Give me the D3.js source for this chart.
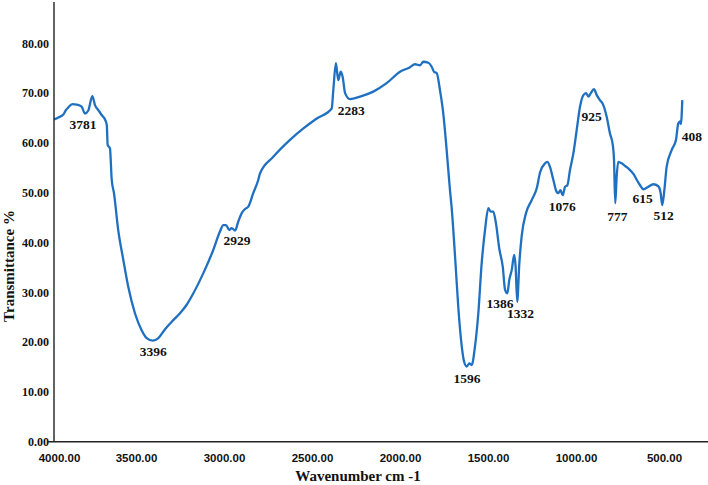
<!DOCTYPE html>
<html>
<head>
<meta charset="utf-8">
<script src="https://cdn.jsdelivr.net/npm/d3@7/dist/d3.min.js"></script>
<style>
  html, body { margin: 0; padding: 0; background: #ffffff; }
  svg { display: block; }
</style>
</head>
<body>
<svg id="chart" width="708" height="485"></svg>
<script>
// ---- data ----
const wavenumber = [3966,3941,3913,3898,3885,3862,3837,3809,3790,3771,3748,3733,3714,3695,3676,3666,3661,3648,3638,3625,3601,3572,3544,3506,3468,3439,3405,3373,3335,3297,3250,3212,3174,3118,3061,3023,3004,2989,2970,2956,2937,2919,2899,2881,2862,2834,2805,2795,2720,2625,2549,2473,2388,2379,2364,2351,2337,2326,2312,2284,2227,2152,2076,2000,1943,1915,1886,1868,1839,1820,1807,1791,1773,1754,1735,1716,1707,1687,1669,1649,1636,1621,1606,1593,1574,1555,1536,1517,1498,1485,1470,1455,1436,1416,1403,1390,1379,1365,1351,1343,1334,1322,1309,1284,1252,1223,1204,1176,1163,1148,1129,1114,1101,1088,1076,1062,1049,1034,1015,996,977,958,943,930,916,898,882,864,845,826,807,791,784,777,769,760,740,722,703,684,670,655,636,617,589,561,532,519,510,498,485,456,432,419,409,404,396];
const transmittance = [64.7,65.1,65.7,66.6,67.1,67.8,67.7,67.3,65.9,66.5,69.4,67.6,66.6,65.6,64.7,63.6,59.6,58.9,52.6,49.9,42.5,36.5,31.1,25.8,22.4,20.8,20.3,20.8,22.6,24.1,25.8,27.5,29.8,33.8,38.5,42.2,43.5,43.5,42.5,42.9,42.4,44.2,45.9,46.7,47.2,49.9,52.6,53.9,57.2,60.6,62.9,64.9,66.9,70.6,76.0,72.6,74.3,73.3,70.0,68.8,69.3,70.3,72.0,74.3,75.2,75.8,75.6,76.3,76.1,75.3,74.3,74.0,70.6,65.9,58.6,50.5,47.2,37.1,27.1,19.1,16.1,15.1,15.7,15.4,19.1,25.8,35.8,42.5,46.9,46.2,46.2,43.9,38.8,35.1,30.5,29.8,32.5,34.5,37.5,35.1,28.1,35.8,41.2,45.9,48.5,50.9,54.1,55.9,56.2,55.2,52.6,50.5,49.9,50.5,49.5,51.2,51.5,54.6,57.9,62.6,67.3,69.6,70.0,69.3,70.0,70.8,69.6,68.6,67.6,65.3,61.9,59.6,56.6,47.9,53.2,56.2,55.9,55.4,54.9,54.2,53.6,52.6,51.5,50.7,51.2,51.7,51.3,49.9,47.5,50.5,55.2,58.6,60.6,63.9,64.3,63.8,68.6];

const peakLabels = ["3781","3396","2929","2283","1596","1386","1332","1076","925","777","615","512","408"];
const peakLabelWn = [3801,3402,2926,2277,1619,1432,1316,1078,911,765,622,502,341];
const peakLabelT  = [63.7,18.1,40.4,66.6,12.7,27.8,25.8,47.3,65.3,45.2,48.9,45.5,61.2];

const xTicks = [4000,3500,3000,2500,2000,1500,1000,500];
const yTicks = [0,10,20,30,40,50,60,70,80];
const xTitle = "Wavenumber cm -1";
const yTitle = "Transmittance %";

// ---- layout ----
const svg = d3.select("#chart");
const plotLeft = 54, plotRight = 708, plotBottom = 441.7, plotTop = 0;

const x = d3.scaleLinear().domain([4000, 0]).range([48, 752]);
const y = d3.scaleLinear().domain([0, 88.7]).range([plotBottom, plotTop]);

const serif = "'Liberation Serif', 'Times New Roman', serif";
const sans = "'Liberation Sans', Arial, sans-serif";

// clip
svg.append("defs").append("clipPath").attr("id", "plotclip")
  .append("rect").attr("x", plotLeft).attr("y", plotTop)
  .attr("width", plotRight - plotLeft).attr("height", plotBottom - plotTop);

// curve
const pts = wavenumber.map((w, i) => [w, transmittance[i]]);
const line = d3.line()
  .x(d => x(d[0]))
  .y(d => y(d[1]))
  .curve(d3.curveMonotoneX);

svg.append("path")
  .datum(pts)
  .attr("clip-path", "url(#plotclip)")
  .attr("fill", "none")
  .attr("stroke", "#1f70c1")
  .attr("stroke-width", 2.3)
  .attr("stroke-linejoin", "round")
  .attr("d", line);

// x axis
const xAxis = d3.axisBottom(x).tickValues(xTicks).tickSize(0).tickPadding(0)
  .tickFormat(d => d3.format(".2f")(d));
const gx = svg.append("g").attr("transform", `translate(0,${plotBottom})`).call(xAxis);
gx.select(".domain").remove();
gx.append("line").attr("x1", 48).attr("x2", 708).attr("y1", 0).attr("y2", 0)
  .attr("stroke", "#222").attr("stroke-width", 1.4);
gx.selectAll(".tick text")
  .attr("y", 0).attr("dy", 0)
  .attr("transform", d => d === 4000 ? "translate(11,20.6)" : "translate(0,20.6)")
  .attr("font-family", sans).attr("font-weight", "bold")
  .attr("font-size", "11.5px").attr("fill", "#111");

// y axis
const yAxis = d3.axisLeft(y).tickValues(yTicks).tickSize(0).tickPadding(5)
  .tickFormat(d => d3.format(".2f")(d));
const gy = svg.append("g").attr("transform", `translate(${plotLeft},0)`).call(yAxis);
gy.select(".domain").remove();
gy.append("line").attr("x1", 0).attr("x2", 0).attr("y1", plotTop + 2).attr("y2", plotBottom)
  .attr("stroke", "#222").attr("stroke-width", 1.4);
gy.selectAll(".tick text")
  .attr("font-family", serif).attr("font-weight", "bold")
  .attr("font-size", "12px").attr("fill", "#111");

// peak labels
svg.append("g").selectAll("text")
  .data(peakLabels)
  .join("text")
  .attr("x", (d, i) => x(peakLabelWn[i]))
  .attr("y", (d, i) => y(peakLabelT[i]))
  .attr("text-anchor", "middle")
  .attr("dominant-baseline", "central")
  .attr("font-family", serif).attr("font-weight", "bold")
  .attr("font-size", "13.5px").attr("fill", "#111")
  .text(d => d);

// titles
svg.append("text")
  .attr("x", 358).attr("y", 481)
  .attr("text-anchor", "middle")
  .attr("font-family", serif).attr("font-weight", "bold")
  .attr("font-size", "15px").attr("fill", "#111")
  .text(xTitle);

svg.append("text")
  .attr("transform", "translate(13.5,266) rotate(-90)")
  .attr("text-anchor", "middle")
  .attr("font-family", serif).attr("font-weight", "bold")
  .attr("font-size", "15px").attr("fill", "#111")
  .text(yTitle);
</script>
</body>
</html>
